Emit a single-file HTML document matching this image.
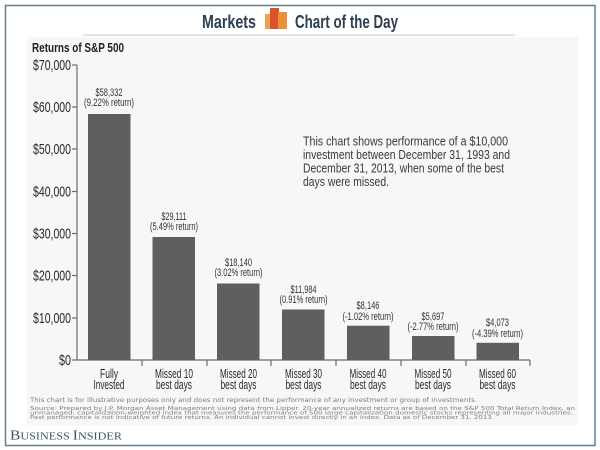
<!DOCTYPE html>
<html><head><meta charset="utf-8"><style>
html,body{margin:0;padding:0;background:#fff;}
svg{display:block;}
.n{font-family:"Liberation Sans Narrow","Liberation Sans",sans-serif;}
</style></head><body>
<svg width="600" height="450" viewBox="0 0 600 450" xmlns="http://www.w3.org/2000/svg">
<rect x="0" y="0" width="600" height="450" fill="#fff"/>
<!-- outer frame -->
<rect x="5.5" y="5.5" width="589.5" height="440" fill="none" stroke="#6a8595" stroke-width="1.6"/>
<!-- header -->
<text class="n" x="202" y="28" font-size="18" font-weight="bold" fill="#2e4050" textLength="54" lengthAdjust="spacingAndGlyphs">Markets</text>
<rect x="265" y="14" width="7" height="15" fill="#f0a050"/>
<rect x="270" y="8" width="9" height="21" fill="#d9542a"/>
<rect x="278" y="12" width="9" height="17" fill="#ef8f3a"/>
<text class="n" x="295" y="28" font-size="18" font-weight="bold" fill="#2e4050" textLength="103" lengthAdjust="spacingAndGlyphs">Chart of the Day</text>
<line x1="83" y1="35" x2="515" y2="35" stroke="#e8cec6" stroke-width="1.2"/>
<!-- chart panel -->
<rect x="27" y="37" width="551" height="388" fill="#f7f7f7"/>
<text class="n" x="32" y="52" font-size="13" font-weight="bold" fill="#222" textLength="92" lengthAdjust="spacingAndGlyphs">Returns of S&amp;P 500</text>
<!-- y axis -->
<g stroke="#6d6d6d" stroke-width="1.2">
<line x1="77" y1="65" x2="77" y2="360"/>
<line x1="72" y1="65" x2="77" y2="65"/>
<line x1="72" y1="107" x2="77" y2="107"/>
<line x1="72" y1="149" x2="77" y2="149"/>
<line x1="72" y1="191.5" x2="77" y2="191.5"/>
<line x1="72" y1="233.5" x2="77" y2="233.5"/>
<line x1="72" y1="275.5" x2="77" y2="275.5"/>
<line x1="72" y1="318" x2="77" y2="318"/>
<line x1="72" y1="360" x2="77" y2="360"/>
<line x1="77" y1="360" x2="530" y2="360"/>
<line x1="142" y1="360" x2="142" y2="366"/>
<line x1="207" y1="360" x2="207" y2="366"/>
<line x1="271" y1="360" x2="271" y2="366"/>
<line x1="336" y1="360" x2="336" y2="366"/>
<line x1="401" y1="360" x2="401" y2="366"/>
<line x1="466" y1="360" x2="466" y2="366"/>
<line x1="530" y1="360" x2="530" y2="366"/>
</g>
<g class="n" font-size="15" fill="#2a2a2a" text-anchor="end">
<text x="71" y="70" textLength="38" lengthAdjust="spacingAndGlyphs">$70,000</text>
<text x="71" y="112" textLength="38" lengthAdjust="spacingAndGlyphs">$60,000</text>
<text x="71" y="154" textLength="38" lengthAdjust="spacingAndGlyphs">$50,000</text>
<text x="71" y="196.5" textLength="38" lengthAdjust="spacingAndGlyphs">$40,000</text>
<text x="71" y="238.5" textLength="38" lengthAdjust="spacingAndGlyphs">$30,000</text>
<text x="71" y="280.5" textLength="38" lengthAdjust="spacingAndGlyphs">$20,000</text>
<text x="71" y="323" textLength="38" lengthAdjust="spacingAndGlyphs">$10,000</text>
<text x="71" y="365" textLength="12" lengthAdjust="spacingAndGlyphs">$0</text>
</g>
<!-- bars -->
<g fill="#5f605d">
<rect x="88" y="114" width="42.5" height="246"/>
<rect x="152.5" y="237" width="42.5" height="123"/>
<rect x="217" y="283.5" width="42.5" height="76.5"/>
<rect x="282" y="309.5" width="42.5" height="50.5"/>
<rect x="347" y="325.7" width="42.5" height="34.3"/>
<rect x="412" y="336" width="42.5" height="24"/>
<rect x="476.5" y="342.8" width="42.5" height="17.2"/>
</g>
<!-- value labels -->
<g class="n" font-size="11" fill="#333" text-anchor="middle">
<text x="109" y="96" textLength="27" lengthAdjust="spacingAndGlyphs">$58,332</text>
<text x="109" y="106" textLength="50" lengthAdjust="spacingAndGlyphs">(9.22% return)</text>
<text x="174" y="220" textLength="25" lengthAdjust="spacingAndGlyphs">$29,111</text>
<text x="174" y="230" textLength="48" lengthAdjust="spacingAndGlyphs">(5.49% return)</text>
<text x="238.5" y="266" textLength="27" lengthAdjust="spacingAndGlyphs">$18,140</text>
<text x="238.5" y="276" textLength="48" lengthAdjust="spacingAndGlyphs">(3.02% return)</text>
<text x="303.5" y="293" textLength="26" lengthAdjust="spacingAndGlyphs">$11,984</text>
<text x="303.5" y="303" textLength="48" lengthAdjust="spacingAndGlyphs">(0.91% return)</text>
<text x="368" y="309" textLength="23" lengthAdjust="spacingAndGlyphs">$8,146</text>
<text x="368" y="320" textLength="51" lengthAdjust="spacingAndGlyphs">(-1.02% return)</text>
<text x="433" y="320" textLength="23" lengthAdjust="spacingAndGlyphs">$5,697</text>
<text x="433" y="330" textLength="51" lengthAdjust="spacingAndGlyphs">(-2.77% return)</text>
<text x="497.5" y="326" textLength="23" lengthAdjust="spacingAndGlyphs">$4,073</text>
<text x="497.5" y="337" textLength="51" lengthAdjust="spacingAndGlyphs">(-4.39% return)</text>
</g>
<!-- category labels -->
<g class="n" font-size="13" fill="#2a2a2a" text-anchor="middle">
<text x="109" y="378" textLength="18" lengthAdjust="spacingAndGlyphs">Fully</text>
<text x="109" y="389" textLength="31" lengthAdjust="spacingAndGlyphs">Invested</text>
<text x="174" y="378" textLength="38" lengthAdjust="spacingAndGlyphs">Missed 10</text>
<text x="174" y="389" textLength="36" lengthAdjust="spacingAndGlyphs">best days</text>
<text x="238.5" y="378" textLength="37" lengthAdjust="spacingAndGlyphs">Missed 20</text>
<text x="238.5" y="389" textLength="36" lengthAdjust="spacingAndGlyphs">best days</text>
<text x="303.5" y="378" textLength="37" lengthAdjust="spacingAndGlyphs">Missed 30</text>
<text x="303.5" y="389" textLength="36" lengthAdjust="spacingAndGlyphs">best days</text>
<text x="368" y="378" textLength="37" lengthAdjust="spacingAndGlyphs">Missed 40</text>
<text x="368" y="389" textLength="36" lengthAdjust="spacingAndGlyphs">best days</text>
<text x="433" y="378" textLength="37" lengthAdjust="spacingAndGlyphs">Missed 50</text>
<text x="433" y="389" textLength="36" lengthAdjust="spacingAndGlyphs">best days</text>
<text x="497.5" y="378" textLength="37" lengthAdjust="spacingAndGlyphs">Missed 60</text>
<text x="497.5" y="389" textLength="36" lengthAdjust="spacingAndGlyphs">best days</text>
</g>
<!-- annotation -->
<g class="n" font-size="13" fill="#3a3a3a">
<text x="303" y="145.5" textLength="205" lengthAdjust="spacingAndGlyphs">This chart shows performance of a $10,000</text>
<text x="303" y="159" textLength="207" lengthAdjust="spacingAndGlyphs">investment between December 31, 1993 and</text>
<text x="303" y="172.5" textLength="201" lengthAdjust="spacingAndGlyphs">December 31, 2013, when some of the best</text>
<text x="303" y="186" textLength="86" lengthAdjust="spacingAndGlyphs">days were missed.</text>
</g>
<!-- footnotes -->
<g font-family="'DejaVu Sans','Liberation Sans',sans-serif" font-size="6" fill="#7d7d7d">
<text x="30" y="402" textLength="447" lengthAdjust="spacingAndGlyphs">This chart is for illustrative purposes only and does not represent the performance of any investment or group of investments.</text>
<text x="30" y="410" font-size="5.5" textLength="545" lengthAdjust="spacingAndGlyphs">Source: Prepared by J.P. Morgan Asset Management using data from Lipper. 20-year annualized returns are based on the S&amp;P 500 Total Return Index, an</text>
<text x="30" y="414.5" font-size="5.5" textLength="543" lengthAdjust="spacingAndGlyphs">unmanaged, capitalization-weighted index that measures the performance of 500 large capitalization domestic stocks representing all major industries.</text>
<text x="30" y="419" font-size="5.5" textLength="464" lengthAdjust="spacingAndGlyphs">Past performance is not indicative of future returns. An individual cannot invest directly in an index. Data as of December 31, 2013.</text>
</g>
<!-- logo -->
<text x="10" y="439.5" font-family="'Liberation Serif',serif" fill="#3b5566" textLength="112" lengthAdjust="spacingAndGlyphs"><tspan font-size="14">B</tspan><tspan font-size="11">USINESS </tspan><tspan font-size="14">I</tspan><tspan font-size="11">NSIDER</tspan></text>
</svg>
</body></html>
